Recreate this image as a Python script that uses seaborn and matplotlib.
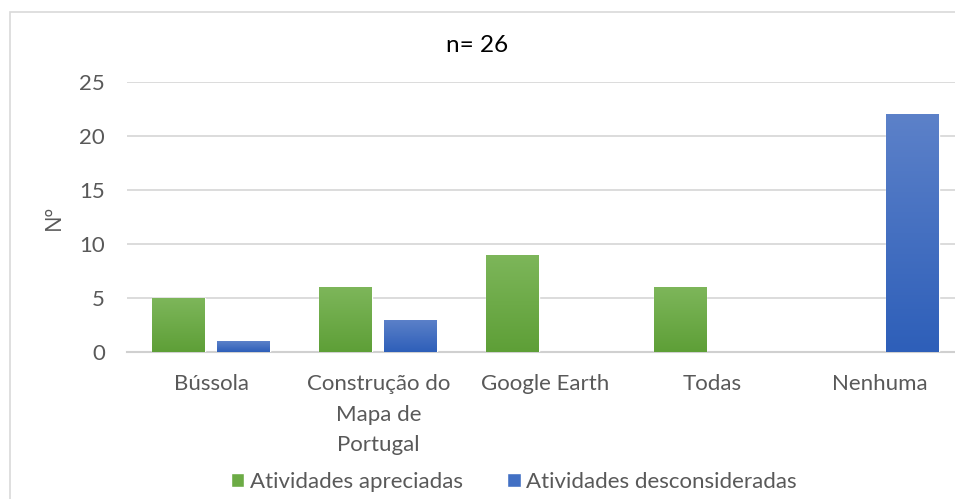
import numpy as np
import pandas as pd
import matplotlib.pyplot as plt
import matplotlib.patheffects as pe
from matplotlib.colors import LinearSegmentedColormap
from matplotlib.patches import Rectangle, Patch
import seaborn as sns

# dados
categorias = ['Bússola', 'Construção do\nMapa de\nPortugal', 'Google Earth', 'Todas', 'Nenhuma']
apreciadas = [5, 6, 9, 6, 0]
desconsideradas = [1, 3, 0, 0, 22]
series = ['Atividades apreciadas', 'Atividades desconsideradas']
cores = ['#6cab45', '#4270c4']
gradientes = [('#7db65a', '#5e9f37'), ('#5c81c9', '#2e5fb9')]

df = pd.DataFrame({
    'cat': categorias * 2,
    'serie': [series[0]] * 5 + [series[1]] * 5,
    'valor': apreciadas + desconsideradas,
})

sns.set_theme(style='white')
plt.rcParams['font.family'] = ['Lato', 'DejaVu Sans']

fig = plt.figure(figsize=(9.55, 4.99), dpi=100)
W, H = 955, 499
ax = fig.add_axes([127 / W, (H - 352) / H, (W - 127) / W, 270 / H])

sns.barplot(data=df, x='cat', y='valor', hue='serie', palette=cores,
            width=0.78, gap=0.19, legend=False, ax=ax, zorder=3)

# gradiente estilo Excel nas barras
for i, p in enumerate(ax.patches):
    h = p.get_height()
    if h <= 0:
        p.set_visible(False)
        continue
    top, bot = gradientes[0] if i < 5 else gradientes[1]
    cmap = LinearSegmentedColormap.from_list('g', [bot, top])
    x0, w = p.get_x(), p.get_width()
    grad = np.linspace(0, 1, 100).reshape(-1, 1)
    im = ax.imshow(grad, cmap=cmap, origin='lower', aspect='auto',
                   extent=(x0, x0 + w, 0, h), zorder=4)
    im.set_clip_path(p)
    p.set_path_effects([pe.SimplePatchShadow(offset=(0, 0), shadow_rgbFace='#bfbfbf', alpha=0.6),
                        pe.Normal()])

ax.set_xlim(-0.503, 4.45)
ax.set_ylim(0, 25)
ax.set_yticks([0, 5, 10, 15, 20, 25])
ax.yaxis.grid(True, color='#d9d9d9', linewidth=1.3, zorder=0)
ax.set_axisbelow(True)
for s in ['top', 'right', 'left']:
    ax.spines[s].set_visible(False)
ax.spines['bottom'].set_color('#d0d0d0')
ax.spines['bottom'].set_linewidth(1.5)

ax.tick_params(axis='y', length=0, pad=16, labelsize=16, labelcolor='#595959')
ax.tick_params(axis='x', length=0, pad=16, labelsize=16, labelcolor='#595959')
for t in ax.get_xticklabels():
    t.set_linespacing(1.65)

ax.set_xlabel('')
ax.set_ylabel('Nº', fontsize=16, color='#595959', labelpad=10, family=['Open Sans', 'DejaVu Sans'])

fig.text(477 / W, 1 - 45 / H, 'n= 26', ha='center', va='center', fontsize=17.5, color='black')

# borda do gráfico
fig.patches.append(Rectangle((10 / W, -0.1), 1.2, 1 - 12 / H + 0.1, transform=fig.transFigure,
                             fill=False, edgecolor='#d9d9d9', linewidth=1.2))

handles = [Patch(facecolor=c) for c in cores]
fig.legend(handles, series, loc='center', bbox_to_anchor=(514 / W, 1 - 482 / H), ncol=2,
           frameon=False, fontsize=16, labelcolor='#595959', handlelength=0.6,
           handleheight=0.6, handletextpad=0.25, columnspacing=2.0)

fig.savefig('out.png', dpi=100)
